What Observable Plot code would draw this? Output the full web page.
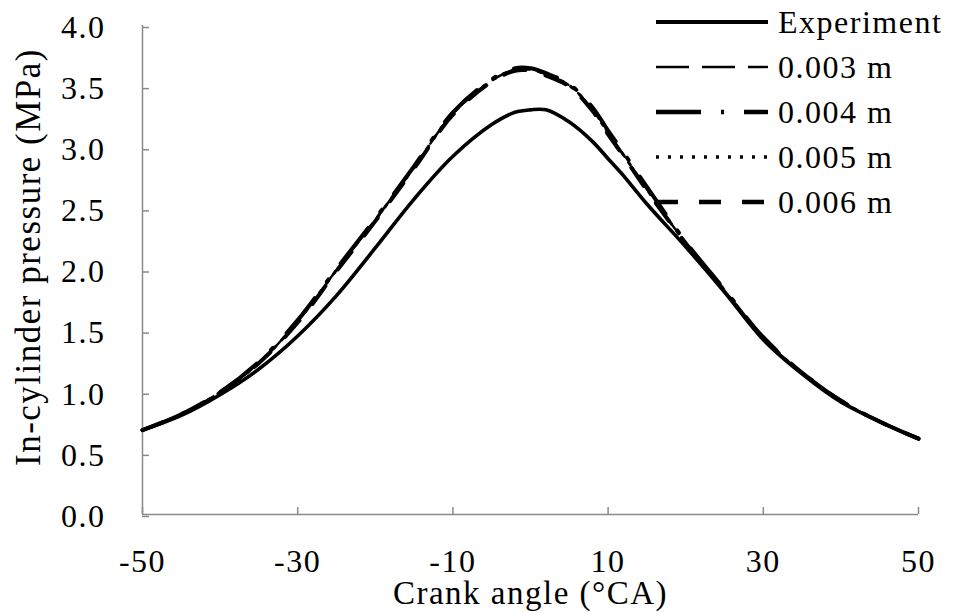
<!DOCTYPE html>
<html><head><meta charset="utf-8">
<script src="https://cdn.jsdelivr.net/npm/d3@7"></script>
<script src="https://cdn.jsdelivr.net/npm/@observablehq/plot@0.6"></script>
<style>
body{margin:0;background:#fff;}
#wrap{position:relative;width:962px;height:613px;}
#legend{position:absolute;left:0;top:0;pointer-events:none;}
</style></head><body><div id="wrap"></div>
<script>
// Crank angle (°CA)
const angles     = [-50, -45, -40, -35, -30, -25, -20, -15, -10, -5, -2, 0, 2, 5, 8, 10, 12, 15, 20, 25, 30, 35, 40, 45, 50];
// In-cylinder pressure (MPa)
const experiment = [0.69, 0.81, 0.98, 1.19, 1.46, 1.79, 2.18, 2.58, 2.93, 3.19, 3.29, 3.31, 3.31, 3.21, 3.05, 2.91, 2.77, 2.54, 2.19, 1.82, 1.43, 1.15, 0.92, 0.76, 0.62];
const sim003     = [0.69, 0.82, 1.00, 1.24, 1.58, 2.00, 2.41, 2.84, 3.28, 3.55, 3.64, 3.64, 3.60, 3.51, 3.31, 3.12, 2.94, 2.66, 2.22, 1.83, 1.44, 1.16, 0.93, 0.76, 0.62];
const sim004     = [0.69, 0.82, 1.00, 1.25, 1.59, 2.01, 2.42, 2.85, 3.29, 3.56, 3.65, 3.65, 3.61, 3.52, 3.33, 3.14, 2.96, 2.68, 2.23, 1.84, 1.45, 1.16, 0.93, 0.76, 0.62];
const sim005     = [0.69, 0.82, 1.00, 1.24, 1.58, 2.00, 2.41, 2.84, 3.28, 3.55, 3.64, 3.64, 3.60, 3.51, 3.31, 3.12, 2.94, 2.66, 2.22, 1.83, 1.44, 1.16, 0.93, 0.76, 0.62];
const sim006     = [0.69, 0.82, 1.00, 1.24, 1.57, 1.99, 2.40, 2.83, 3.27, 3.54, 3.63, 3.63, 3.59, 3.50, 3.30, 3.11, 2.93, 2.65, 2.22, 1.83, 1.44, 1.16, 0.93, 0.76, 0.62];

const seriesNames = ["Experiment", "0.003 m", "0.004 m", "0.005 m", "0.006 m"];
const seriesValues = [experiment, sim003, sim004, sim005, sim006];
const xTicks = [-50, -30, -10, 10, 30, 50];
const yTicks = [0, 0.5, 1, 1.5, 2, 2.5, 3, 3.5, 4];
const xTitle = "Crank angle (°CA)";
const yTitle = "In-cylinder pressure (MPa)";

const lineStyles = {
  "Experiment": {strokeWidth: 3.6, strokeDasharray: null},
  "0.003 m":    {strokeWidth: 2.4, strokeDasharray: "33 13"},
  "0.004 m":    {strokeWidth: 4,   strokeDasharray: "45 20 3 20"},
  "0.005 m":    {strokeWidth: 3,   strokeDasharray: "3 9"},
  "0.006 m":    {strokeWidth: 4,   strokeDasharray: "22 21"}
};

const rows = [];
seriesNames.forEach((name, i) => {
  angles.forEach((a, j) => rows.push({series: name, angle: a, p: seriesValues[i][j]}));
});

const FONT = "'Liberation Serif', 'Times New Roman', serif";
const axisColor = "#8a8a8a";

const marks = [
  Plot.ruleY([0], {stroke: axisColor, strokeWidth: 1.5}),
  Plot.ruleX([-50], {stroke: axisColor, strokeWidth: 1.5}),
  Plot.axisX({ticks: xTicks, tickFormat: d => String(d), tickSize: -7, tickPadding: 42, stroke: axisColor, strokeWidth: 1.5, fill: "#000", label: null, fontSize: 32}),
  Plot.axisY({ticks: yTicks, tickFormat: d => d.toFixed(1), tickSize: -7, tickPadding: 44, stroke: axisColor, strokeWidth: 1.5, fill: "#000", label: null, fontSize: 32, dy: 2}),
  Plot.text([xTitle], {text: d => d, frameAnchor: "bottom", textAnchor: "middle", lineAnchor: "middle", dy: 79, fontSize: 33, fill: "#000"}),
  Plot.text([yTitle], {text: d => d, frameAnchor: "left", textAnchor: "middle", lineAnchor: "middle", rotate: -90, dx: -114, dy: -13, fontSize: 35, fill: "#000"})
];

for (const name of seriesNames) {
  const st = lineStyles[name];
  marks.push(Plot.line(rows.filter(d => d.series === name), {
    x: "angle", y: "p", curve: "catmull-rom", stroke: "#000",
    strokeWidth: st.strokeWidth, strokeDasharray: st.strokeDasharray
  }));
}

const chart = Plot.plot({
  width: 962, height: 613,
  marginLeft: 142, marginRight: 44, marginTop: 25, marginBottom: 99,
  x: {domain: [-50, 50]},
  y: {domain: [0, 4]},
  style: {fontFamily: FONT, letterSpacing: "1.5px", background: "#fff", color: "#000", overflow: "visible"},
  marks
});
const wrap = document.getElementById("wrap");
wrap.appendChild(chart);

// legend
const ns = "http://www.w3.org/2000/svg";
const leg = document.createElementNS(ns, "svg");
leg.setAttribute("id", "legend");
leg.setAttribute("width", 962);
leg.setAttribute("height", 240);
seriesNames.forEach((name, i) => {
  const y = 22 + i * 45;
  const st = lineStyles[name];
  const ln = document.createElementNS(ns, "line");
  ln.setAttribute("x1", 656); ln.setAttribute("x2", 768);
  ln.setAttribute("y1", y); ln.setAttribute("y2", y);
  ln.setAttribute("stroke", "#000");
  ln.setAttribute("stroke-width", st.strokeWidth + (name === "0.003 m" ? 0 : 0.4));
  if (st.strokeDasharray) ln.setAttribute("stroke-dasharray", st.strokeDasharray);
  leg.appendChild(ln);
  const t = document.createElementNS(ns, "text");
  t.setAttribute("x", 778); t.setAttribute("y", y);
  t.setAttribute("dominant-baseline", "central");
  t.setAttribute("font-family", FONT);
  t.setAttribute("font-size", 32);
  t.setAttribute("letter-spacing", "1.5px");
  t.textContent = name;
  leg.appendChild(t);
});
wrap.appendChild(leg);
</script></body></html>
